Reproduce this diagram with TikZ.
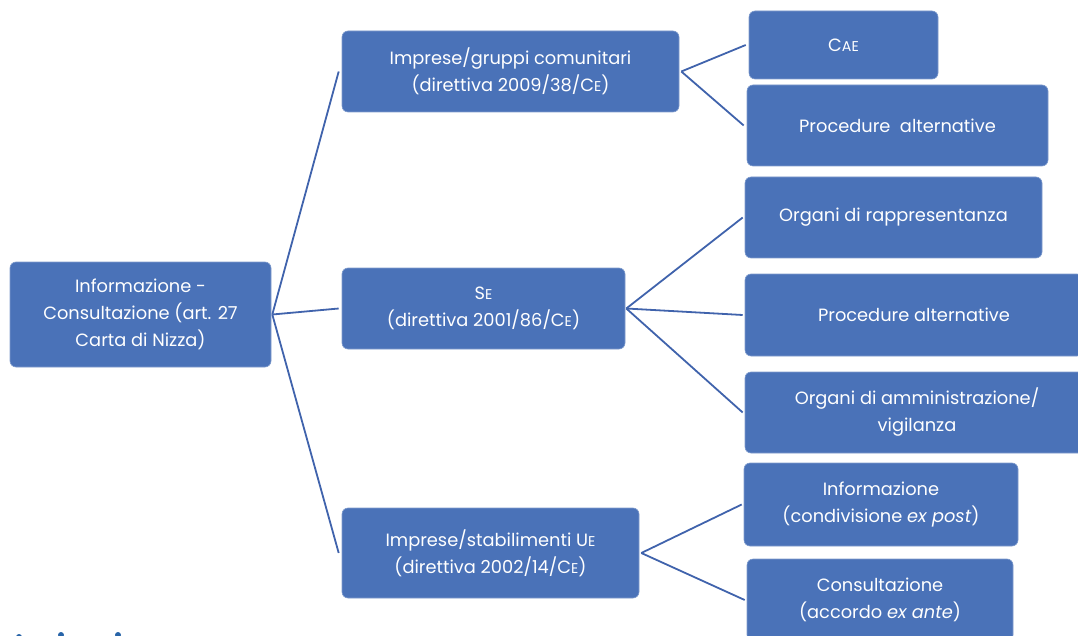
\documentclass[tikz,border=0pt]{standalone}
\usepackage{fontspec}
\setmainfont{Poppins}
\definecolor{boxblue}{RGB}{74,114,184}
\definecolor{lineblue}{RGB}{64,99,172}
\definecolor{dotblue}{RGB}{40,100,168}
\newcommand\smcap[1]{{\fontsize{14.2}{14.2}\selectfont #1}}
\begin{document}
\begin{tikzpicture}[x=1pt,y=-1pt,
  box/.style={draw=boxblue!70!white, line width=0.6pt, fill=boxblue, rounded corners=6pt,
    text=white, align=center, inner sep=0pt,
    font=\fontsize{17.8}{27}\selectfont},
  conn/.style={draw=lineblue, line width=1.8pt},
  dotmark/.style={fill=dotblue, draw=none}]
\useasboundingbox (0,0) rectangle (1078,636);
\clip (0,0) rectangle (1078,636);
\node[box, minimum width=261pt, minimum height=105pt] (root) at (140.5,314.5)
  {Informazione -\\Consultazione (art. 27\\Carta di Nizza)};
\node[box, minimum width=337pt, minimum height=81pt] (m1) at (510.5,71.5)
  {Imprese/gruppi comunitari\\(direttiva 2009/38/C\smcap{E})};
\node[box, minimum width=283pt, minimum height=81pt] (m2) at (483.5,308.5)
  {S\smcap{E}\\(direttiva 2001/86/C\smcap{E})};
\node[box, minimum width=297pt, minimum height=90pt] (m3) at (490.5,553)
  {Imprese/stabilimenti U\smcap{E}\\(direttiva 2002/14/C\smcap{E})};
\node[box, minimum width=189pt, minimum height=68pt] (r1) at (843.5,45)
  {C\smcap{AE}};
\node[box, minimum width=301pt, minimum height=81pt] (r2) at (897.5,125.5)
  {Procedure\ \ alternative};
\node[box, minimum width=297pt, minimum height=81pt] (r3) at (893.5,217.5)
  {Organi di rappresentanza};
\node[box, minimum width=338pt, minimum height=82pt] (r4) at (914,315)
  {Procedure alternative};
\node[box, minimum width=344pt, minimum height=81pt] (r5) at (917,412.5)
  {Organi di amministrazione/\\vigilanza};
\node[box, minimum width=274pt, minimum height=83pt] (r6) at (881,504.5)
  {Informazione\\(condivisione \textit{ex post})};
\node[box, minimum width=266pt, minimum height=82pt] (r7) at (880,600)
  {Consultazione\\(accordo \textit{ex ante})};
\coordinate (j0) at ([xshift=1pt]root.east);
\coordinate (j1) at ([xshift=2pt]m1.east);
\coordinate (j2) at ([xshift=1pt]m2.east);
\coordinate (j3) at ([xshift=2pt]m3.east);
\draw[conn] (j0) -- ([xshift=-3pt]m1.west);
\draw[conn] (j0) -- ([xshift=-3pt]m2.west);
\draw[conn] (j0) -- ([xshift=-3pt]m3.west);
\draw[conn] (j1) -- ([xshift=-3pt]r1.west);
\draw[conn] (j1) -- ([xshift=-3pt]r2.west);
\draw[conn] (j2) -- ([xshift=-2pt]r3.west);
\draw[conn] (j2) -- ([xshift=-2pt]r4.west);
\draw[conn] (j2) -- ([xshift=-2pt]r5.west);
\draw[conn] (j3) -- ([xshift=-2pt]r6.west);
\draw[conn] (j3) -- ([xshift=-2pt]r7.west);
\fill[dotmark] (19,637) circle (3pt);
\fill[dotmark] (61,635) circle (3pt);
\fill[dotmark] (118,635) circle (3pt);
\end{tikzpicture}
\end{document}
